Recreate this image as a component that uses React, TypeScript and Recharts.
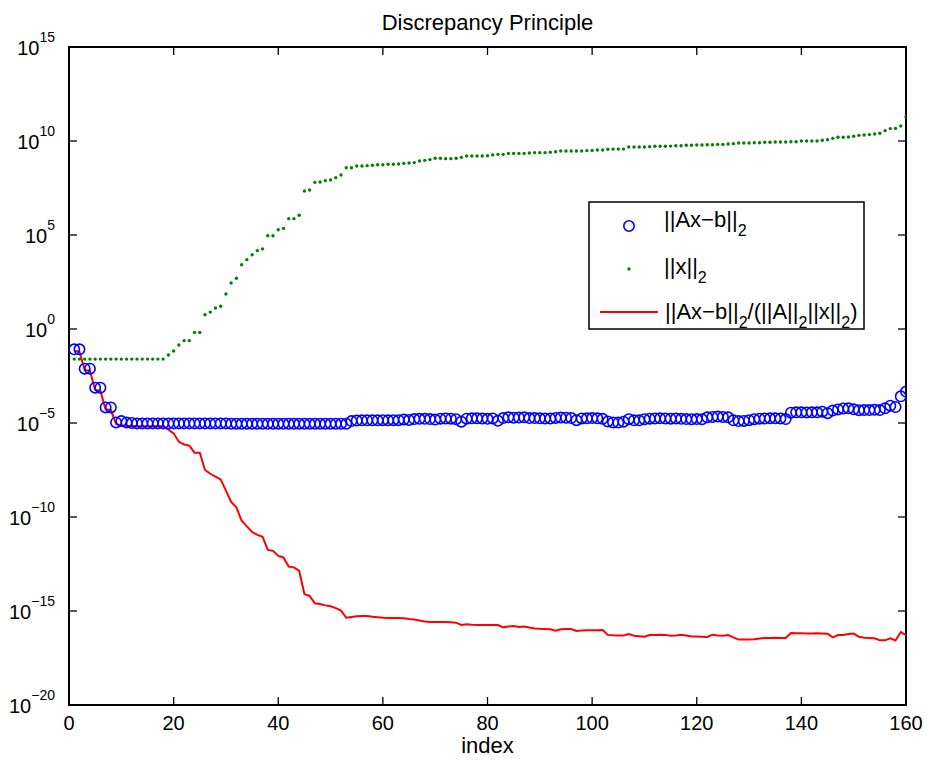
import { ComposedChart, Scatter, Line, XAxis, YAxis, ReferenceArea, Legend } from 'recharts'

// x: iteration index 1..160
const INDEX = Array.from({ length: 160 }, (_, k) => k + 1)

// values, stored as log10 exponents
const RESID_EXP = [
  -1.08, -1.08, -2.11, -2.11, -3.12, -3.12, -4.17, -4.17, -4.97, -4.9,
  -4.98, -5.0, -5.02, -5.02, -5.02, -5.02, -5.02, -5.02, -5.02, -5.02,
  -5.02, -5.02, -5.02, -5.02, -5.02, -5.02, -5.02, -5.02, -5.02, -5.02,
  -5.04, -5.04, -5.04, -5.04, -5.04, -5.04, -5.04, -5.04, -5.04, -5.04,
  -5.04, -5.04, -5.04, -5.04, -5.04, -5.04, -5.04, -5.04, -5.04, -5.04,
  -5.04, -5.04, -5.04, -4.9, -4.87, -4.86, -4.86, -4.86, -4.86, -4.85,
  -4.86, -4.85, -4.85, -4.82, -4.84, -4.79, -4.78, -4.78, -4.79, -4.82,
  -4.77, -4.76, -4.77, -4.8, -4.93, -4.77, -4.75, -4.75, -4.76, -4.78,
  -4.76, -4.88, -4.74, -4.7, -4.72, -4.71, -4.7, -4.74, -4.74, -4.75,
  -4.76, -4.76, -4.73, -4.71, -4.72, -4.74, -4.85, -4.76, -4.75, -4.74,
  -4.75, -4.78, -4.92, -4.97, -4.98, -4.93, -4.8, -4.86, -4.86, -4.8,
  -4.77, -4.76, -4.75, -4.76, -4.77, -4.76, -4.78, -4.79, -4.8, -4.79,
  -4.8, -4.7, -4.68, -4.66, -4.68, -4.7, -4.86, -4.9, -4.89, -4.85,
  -4.8, -4.77, -4.76, -4.75, -4.75, -4.76, -4.79, -4.45, -4.43, -4.43,
  -4.44, -4.43, -4.43, -4.4, -4.48, -4.34, -4.28, -4.23, -4.22, -4.27,
  -4.32, -4.31, -4.31, -4.3, -4.31, -4.22, -4.08, -4.15, -3.58, -3.33,
]

const NORMX_EXP = [
  -1.6, -1.6, -1.6, -1.6, -1.6, -1.6, -1.6, -1.6, -1.6, -1.6,
  -1.6, -1.6, -1.6, -1.6, -1.6, -1.6, -1.6, -1.6, -1.38, -1.17,
  -0.85, -0.62, -0.62, -0.18, -0.18, 0.76, 0.9, 1.12, 1.21, 1.86,
  2.45, 2.7, 3.42, 3.69, 3.95, 4.17, 4.26, 4.96, 4.96, 5.28,
  5.35, 5.87, 5.87, 6.05, 7.34, 7.39, 7.8, 7.82, 7.89, 7.93,
  8.05, 8.19, 8.58, 8.58, 8.67, 8.67, 8.69, 8.71, 8.74, 8.74,
  8.76, 8.76, 8.78, 8.81, 8.83, 8.85, 8.94, 8.97, 9.01, 9.08,
  9.08, 9.06, 9.06, 9.08, 9.13, 9.2, 9.2, 9.2, 9.2, 9.22,
  9.26, 9.29, 9.29, 9.34, 9.34, 9.34, 9.34, 9.36, 9.38, 9.38,
  9.38, 9.4, 9.43, 9.47, 9.47, 9.47, 9.47, 9.47, 9.49, 9.5,
  9.52, 9.52, 9.56, 9.57, 9.57, 9.57, 9.68, 9.68, 9.68, 9.68,
  9.7, 9.72, 9.72, 9.72, 9.73, 9.75, 9.75, 9.77, 9.77, 9.79,
  9.79, 9.8, 9.8, 9.82, 9.82, 9.84, 9.86, 9.89, 9.89, 9.89,
  9.91, 9.91, 9.93, 9.93, 9.95, 9.95, 9.95, 9.96, 9.96, 10.0,
  10.0, 10.0, 10.0, 10.04, 10.07, 10.14, 10.2, 10.2, 10.21, 10.25,
  10.3, 10.32, 10.34, 10.37, 10.41, 10.55, 10.66, 10.67, 10.8, 11.29,
]

const RATIO_EXP = [
  -1.15, -1.2, -2.18, -2.22, -3.24, -3.28, -4.27, -4.31, -5.05, -5.13,
  -5.16, -5.16, -5.17, -5.17, -5.17, -5.17, -5.17, -5.17, -5.35, -5.55,
  -6.0, -6.14, -6.2, -6.58, -6.58, -7.5, -7.7, -7.85, -8.0, -8.6,
  -9.2, -9.49, -10.2, -10.5, -10.8, -10.95, -11.05, -11.75, -11.8, -12.07,
  -12.15, -12.64, -12.68, -12.87, -14.1, -14.2, -14.59, -14.63, -14.7, -14.75,
  -14.85, -14.98, -15.36, -15.32, -15.28, -15.27, -15.27, -15.3, -15.33, -15.36,
  -15.37, -15.37, -15.37, -15.38, -15.42, -15.45, -15.5, -15.56, -15.58, -15.58,
  -15.58, -15.59, -15.6, -15.62, -15.74, -15.71, -15.73, -15.74, -15.74, -15.74,
  -15.74, -15.75, -15.87, -15.82, -15.8, -15.85, -15.82, -15.88, -15.93, -15.95,
  -15.96, -15.97, -16.05, -15.97, -15.96, -15.96, -16.06, -16.04, -16.03, -16.03,
  -16.02, -16.01, -16.27, -16.29, -16.3, -16.3, -16.23, -16.32, -16.34, -16.37,
  -16.28, -16.27, -16.26, -16.27, -16.32, -16.3, -16.26, -16.3, -16.35, -16.36,
  -16.37, -16.38, -16.26, -16.3, -16.32, -16.28, -16.4, -16.52, -16.52, -16.51,
  -16.5, -16.46, -16.44, -16.43, -16.42, -16.43, -16.44, -16.17, -16.18, -16.19,
  -16.2, -16.2, -16.19, -16.2, -16.21, -16.4, -16.28, -16.28, -16.22, -16.2,
  -16.37, -16.42, -16.43, -16.45, -16.56, -16.56, -16.45, -16.57, -16.12, -16.28,
]

const X_TICKS = [0, 20, 40, 60, 80, 100, 120, 140, 160]
const Y_EXPONENTS = [-20, -15, -10, -5, 0, 5, 10, 15]

const data = INDEX.map((i, k) => ({
  i,
  resid: Math.pow(10, RESID_EXP[k]),
  normx: Math.pow(10, NORMX_EXP[k]),
  ratio: Math.pow(10, RATIO_EXP[k]),
}))

const W = 927
const H = 763
const LEFT = 69
const RIGHT = 906
const TOP = 47
const BOTTOM = 705
const FONT = '"Liberation Sans", Arial, Helvetica, sans-serif'

function XTick({ x, payload }: any) {
  return (
    <g>
      <line x1={x} x2={x} y1={BOTTOM} y2={BOTTOM - 8} stroke="#000" strokeWidth={1.3} />
      <line x1={x} x2={x} y1={TOP} y2={TOP + 8} stroke="#000" strokeWidth={1.3} />
      <text x={x} y={BOTTOM + 25} textAnchor="middle" fontFamily={FONT} fontSize={20} fill="#000">
        {payload.value}
      </text>
    </g>
  )
}

function YTick({ y, payload }: any) {
  const e = Math.round(Math.log10(payload.value))
  return (
    <g>
      <line x1={LEFT} x2={LEFT + 8} y1={y} y2={y} stroke="#000" strokeWidth={1.3} />
      <line x1={RIGHT - 8} x2={RIGHT} y1={y} y2={y} stroke="#000" strokeWidth={1.3} />
      <text x={LEFT - 14} y={y + 8} textAnchor="end" fontFamily={FONT} fontSize={20} fill="#000">
        10
        <tspan dy={-13} fontSize={14}>
          {e < 0 ? '\u2212' + -e : String(e)}
        </tspan>
      </text>
    </g>
  )
}

function LegendBox() {
  return (
    <svg width={277} height={129} style={{ display: 'block' }}>
      <rect x={1} y={1} width={275} height={127} fill="#fff" stroke="#000" strokeWidth={1.5} />
      <circle cx={41} cy={25} r={5.2} fill="none" stroke="#0000ff" strokeWidth={1.6} />
      <circle cx={41} cy={68} r={1.7} fill="#008000" />
      <line x1={12} x2={70} y1={111} y2={111} stroke="#ff0000" strokeWidth={2} />
      <g fontFamily={FONT} fontSize={22} fill="#000">
        <text x={76} y={26}>
          ||Ax{'\u2212'}b||<tspan dy={9} fontSize={16}>2</tspan>
        </text>
        <text x={76} y={73}>
          ||x||<tspan dy={9} fontSize={16}>2</tspan>
        </text>
        <text x={77} y={118}>
          ||Ax{'\u2212'}b||<tspan dy={9} fontSize={16}>2</tspan>
          <tspan dy={-9}>/(||A||</tspan>
          <tspan dy={9} fontSize={16}>2</tspan>
          <tspan dy={-9}>||x||</tspan>
          <tspan dy={9} fontSize={16}>2</tspan>
          <tspan dy={-9}>)</tspan>
        </text>
      </g>
    </svg>
  )
}

export default function App() {
  return (
    <div style={{ position: 'absolute', left: 0, top: 0, width: W, height: H, background: '#fff' }}>
      <div
        style={{
          position: 'absolute',
          left: LEFT,
          width: RIGHT - LEFT,
          top: 12,
          textAlign: 'center',
          fontFamily: FONT,
          fontSize: 22,
          lineHeight: '22px',
          color: '#000',
          zIndex: 2,
        }}
      >
        Discrepancy Principle
      </div>
      <ComposedChart
        width={W}
        height={H}
        data={data}
        margin={{ top: TOP, right: W - RIGHT, bottom: 0, left: LEFT - 60 }}
      >
        <XAxis
          dataKey="i"
          type="number"
          domain={[0, 160]}
          ticks={X_TICKS}
          height={H - BOTTOM}
          axisLine={false}
          tickLine={false}
          tick={<XTick />}
          interval={0}
          allowDataOverflow
          label={{
            content: ({ viewBox }: any) => (
              <text
                x={viewBox.x + viewBox.width / 2}
                y={viewBox.y + 48}
                textAnchor="middle"
                fontFamily={FONT}
                fontSize={22}
                fill="#000"
              >
                index
              </text>
            ),
          }}
        />
        <YAxis
          type="number"
          scale="log"
          domain={[1e-20, 1e15]}
          ticks={Y_EXPONENTS.map((e) => Math.pow(10, e))}
          width={60}
          axisLine={false}
          tickLine={false}
          tick={<YTick />}
          interval={0}
          allowDataOverflow
        />
        <ReferenceArea
          x1={0}
          x2={160}
          y1={1e-20}
          y2={1e15}
          fill="none"
          fillOpacity={0}
          stroke="#000"
          strokeWidth={2}
          ifOverflow="visible"
        />
        <Scatter
          dataKey="resid"
          isAnimationActive={false}
          shape={(p: any) => (
            <circle cx={p.cx} cy={p.cy} r={5.2} fill="none" stroke="#0000ff" strokeWidth={1.6} />
          )}
        />
        <Scatter
          dataKey="normx"
          isAnimationActive={false}
          shape={(p: any) => <circle cx={p.cx} cy={p.cy} r={1.7} fill="#008000" />}
        />
        <Line
          type="linear"
          dataKey="ratio"
          stroke="#ff0000"
          strokeWidth={2}
          dot={false}
          activeDot={false}
          isAnimationActive={false}
        />
        <Legend
          layout="vertical"
          align="center"
          verticalAlign="middle"
          wrapperStyle={{ position: 'absolute', left: 588, top: 201, width: 277, height: 129 }}
          content={() => <LegendBox />}
        />
      </ComposedChart>
    </div>
  )
}
